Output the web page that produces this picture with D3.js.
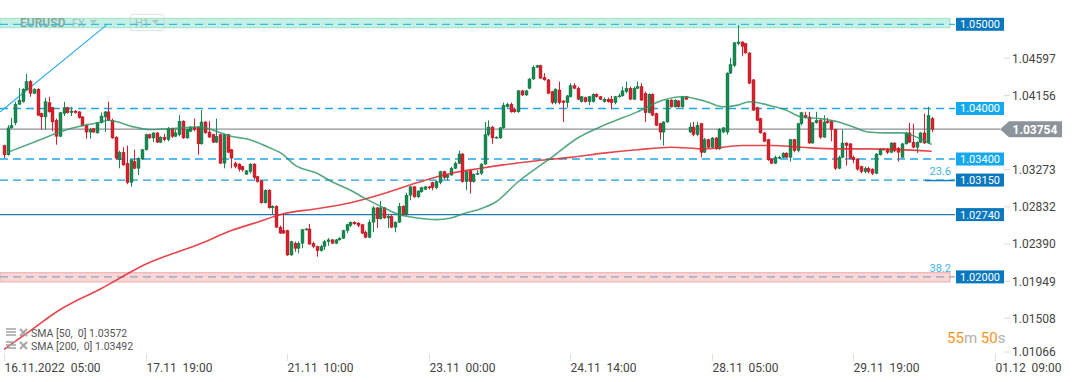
<!DOCTYPE html>
<html>
<head>
<meta charset="utf-8">
<script src="https://cdn.jsdelivr.net/npm/d3@7"></script>
<style>
  body { margin: 0; background: #fff; }
  svg { display: block; font-family: Roboto, "Noto Sans", sans-serif; }
</style>
</head>
<body>
<svg id="chart" width="1072" height="382"></svg>
<script>
// EURUSD H1, 16.11.2022 05:00 onward, one entry per bar
const opens = [
  1.0356,1.0345,1.0377,1.0383,1.0405,1.0408,1.0422,1.0432,1.0418,1.0423,
  1.0394,1.0390,1.0407,1.0401,1.0386,1.0367,1.0394,1.0401,1.0395,1.0397,
  1.0396,1.0390,1.0380,1.0372,1.0376,1.0371,1.0383,1.0390,1.0396,1.0386,
  1.0366,1.0339,1.0348,1.0335,1.0312,1.0337,1.0329,1.0340,1.0351,1.0369,
  1.0365,1.0371,1.0360,1.0366,1.0363,1.0376,1.0367,1.0369,1.0385,1.0365,
  1.0373,1.0378,1.0378,1.0358,1.0384,1.0372,1.0369,1.0360,1.0369,1.0335,
  1.0369,1.0351,1.0335,1.0334,1.0331,1.0322,1.0325,1.0334,1.0319,1.0314,
  1.0288,1.0303,1.0282,1.0284,1.0259,1.0255,1.0255,1.0226,1.0240,1.0234,
  1.0240,1.0256,1.0257,1.0240,1.0236,1.0231,1.0236,1.0242,1.0244,1.0240,
  1.0244,1.0246,1.0255,1.0261,1.0265,1.0264,1.0262,1.0253,1.0247,1.0265,
  1.0282,1.0269,1.0282,1.0270,1.0272,1.0259,1.0265,1.0284,1.0274,1.0297,
  1.0307,1.0295,1.0301,1.0304,1.0307,1.0312,1.0306,1.0312,1.0325,1.0318,
  1.0321,1.0329,1.0335,1.0346,1.0313,1.0326,1.0313,1.0322,1.0323,1.0334,
  1.0369,1.0378,1.0365,1.0365,1.0377,1.0402,1.0405,1.0399,1.0396,1.0421,
  1.0416,1.0424,1.0435,1.0449,1.0451,1.0437,1.0434,1.0420,1.0407,1.0422,
  1.0409,1.0407,1.0414,1.0427,1.0424,1.0408,1.0413,1.0408,1.0408,1.0417,
  1.0414,1.0408,1.0411,1.0411,1.0407,1.0414,1.0415,1.0420,1.0424,1.0411,
  1.0424,1.0426,1.0418,1.0395,1.0417,1.0394,1.0382,1.0372,1.0384,1.0410,
  1.0402,1.0409,1.0402,1.0414,1.0372,1.0378,1.0369,1.0382,1.0348,1.0363,
  1.0354,1.0365,1.0352,1.0372,1.0372,1.0442,1.0451,1.0477,1.0479,1.0477,
  1.0466,1.0434,1.0401,1.0388,1.0371,1.0363,1.0340,1.0335,1.0341,1.0342,
  1.0347,1.0342,1.0363,1.0350,1.0382,1.0392,1.0390,1.0359,1.0383,1.0386,
  1.0366,1.0385,1.0385,1.0375,1.0329,1.0342,1.0359,1.0358,1.0342,1.0340,
  1.0331,1.0325,1.0329,1.0328,1.0323,1.0345,1.0351,1.0352,1.0348,1.0359,
  1.0353,1.0342,1.0358,1.0371,1.0360,1.0354,1.0360,1.0371,1.0359,1.0388
];
const highs = [
  1.0357,1.0380,1.0389,1.0408,1.0424,1.0424,1.0441,1.0434,1.0424,1.0424,
  1.0395,1.0413,1.0414,1.0402,1.0388,1.0396,1.0408,1.0402,1.0402,1.0398,
  1.0397,1.0391,1.0382,1.0377,1.0377,1.0384,1.0395,1.0397,1.0408,1.0388,
  1.0367,1.0350,1.0354,1.0356,1.0340,1.0351,1.0342,1.0352,1.0370,1.0370,
  1.0372,1.0372,1.0367,1.0370,1.0378,1.0377,1.0375,1.0392,1.0386,1.0376,
  1.0379,1.0388,1.0379,1.0398,1.0385,1.0385,1.0370,1.0388,1.0370,1.0370,
  1.0370,1.0352,1.0337,1.0335,1.0332,1.0327,1.0335,1.0335,1.0320,1.0315,
  1.0304,1.0304,1.0285,1.0285,1.0261,1.0275,1.0256,1.0243,1.0242,1.0242,
  1.0257,1.0258,1.0263,1.0242,1.0237,1.0238,1.0244,1.0246,1.0245,1.0245,
  1.0247,1.0256,1.0263,1.0266,1.0266,1.0265,1.0263,1.0255,1.0268,1.0284,
  1.0283,1.0290,1.0283,1.0275,1.0274,1.0266,1.0288,1.0285,1.0300,1.0308,
  1.0308,1.0303,1.0307,1.0308,1.0308,1.0313,1.0314,1.0326,1.0326,1.0322,
  1.0331,1.0337,1.0350,1.0347,1.0326,1.0327,1.0323,1.0327,1.0335,1.0384,
  1.0386,1.0379,1.0367,1.0378,1.0407,1.0407,1.0407,1.0401,1.0422,1.0422,
  1.0422,1.0436,1.0451,1.0452,1.0452,1.0442,1.0435,1.0421,1.0424,1.0432,
  1.0410,1.0416,1.0430,1.0430,1.0426,1.0415,1.0414,1.0415,1.0418,1.0418,
  1.0415,1.0413,1.0413,1.0415,1.0415,1.0418,1.0426,1.0432,1.0426,1.0426,
  1.0432,1.0430,1.0420,1.0418,1.0418,1.0395,1.0383,1.0385,1.0411,1.0411,
  1.0411,1.0410,1.0415,1.0415,1.0383,1.0384,1.0384,1.0383,1.0365,1.0364,
  1.0366,1.0366,1.0377,1.0378,1.0443,1.0460,1.0479,1.0499,1.0480,1.0478,
  1.0467,1.0435,1.0402,1.0389,1.0372,1.0364,1.0341,1.0344,1.0344,1.0348,
  1.0348,1.0364,1.0364,1.0383,1.0396,1.0396,1.0396,1.0384,1.0396,1.0388,
  1.0392,1.0389,1.0386,1.0376,1.0344,1.0375,1.0360,1.0359,1.0344,1.0341,
  1.0332,1.0331,1.0331,1.0329,1.0347,1.0353,1.0353,1.0353,1.0360,1.0360,
  1.0354,1.0359,1.0372,1.0383,1.0382,1.0361,1.0372,1.0394,1.0402,1.0390
];
const lows = [
  1.0341,1.0344,1.0376,1.0380,1.0404,1.0407,1.0421,1.0414,1.0417,1.0391,
  1.0375,1.0375,1.0395,1.0373,1.0357,1.0366,1.0391,1.0394,1.0391,1.0394,
  1.0388,1.0379,1.0364,1.0364,1.0371,1.0370,1.0382,1.0372,1.0385,1.0364,
  1.0339,1.0329,1.0332,1.0310,1.0307,1.0328,1.0321,1.0339,1.0350,1.0364,
  1.0360,1.0359,1.0359,1.0361,1.0361,1.0365,1.0366,1.0367,1.0364,1.0364,
  1.0372,1.0373,1.0345,1.0357,1.0370,1.0365,1.0359,1.0359,1.0334,1.0329,
  1.0347,1.0329,1.0329,1.0325,1.0325,1.0321,1.0323,1.0316,1.0312,1.0287,
  1.0287,1.0281,1.0274,1.0258,1.0251,1.0251,1.0225,1.0225,1.0230,1.0228,
  1.0234,1.0255,1.0238,1.0234,1.0224,1.0230,1.0232,1.0237,1.0239,1.0239,
  1.0243,1.0245,1.0252,1.0259,1.0262,1.0259,1.0251,1.0246,1.0246,1.0253,
  1.0258,1.0268,1.0269,1.0258,1.0258,1.0253,1.0264,1.0272,1.0272,1.0291,
  1.0294,1.0294,1.0300,1.0303,1.0304,1.0303,1.0304,1.0310,1.0316,1.0315,
  1.0320,1.0328,1.0334,1.0312,1.0303,1.0299,1.0312,1.0321,1.0321,1.0333,
  1.0367,1.0358,1.0364,1.0364,1.0376,1.0401,1.0395,1.0395,1.0395,1.0415,
  1.0415,1.0423,1.0434,1.0448,1.0435,1.0433,1.0417,1.0405,1.0405,1.0405,
  1.0384,1.0401,1.0413,1.0423,1.0410,1.0407,1.0407,1.0404,1.0407,1.0413,
  1.0410,1.0407,1.0407,1.0399,1.0405,1.0413,1.0414,1.0418,1.0410,1.0410,
  1.0423,1.0409,1.0384,1.0394,1.0391,1.0379,1.0363,1.0356,1.0383,1.0401,
  1.0401,1.0401,1.0401,1.0410,1.0371,1.0367,1.0367,1.0342,1.0347,1.0353,
  1.0353,1.0351,1.0351,1.0371,1.0369,1.0441,1.0449,1.0475,1.0462,1.0465,
  1.0429,1.0397,1.0385,1.0370,1.0360,1.0338,1.0334,1.0334,1.0340,1.0341,
  1.0341,1.0337,1.0348,1.0348,1.0380,1.0388,1.0358,1.0358,1.0382,1.0364,
  1.0365,1.0382,1.0361,1.0327,1.0328,1.0341,1.0332,1.0340,1.0335,1.0326,
  1.0323,1.0323,1.0323,1.0321,1.0322,1.0344,1.0350,1.0346,1.0347,1.0348,
  1.0337,1.0341,1.0357,1.0359,1.0353,1.0347,1.0359,1.0358,1.0358,1.0372
];
const closes = [
  1.0345,1.0377,1.0380,1.0405,1.0410,1.0423,1.0432,1.0418,1.0423,1.0392,
  1.0390,1.0408,1.0396,1.0384,1.0367,1.0395,1.0401,1.0395,1.0397,1.0395,
  1.0389,1.0380,1.0372,1.0375,1.0372,1.0383,1.0391,1.0396,1.0386,1.0365,
  1.0341,1.0348,1.0333,1.0312,1.0339,1.0329,1.0341,1.0351,1.0369,1.0365,
  1.0371,1.0360,1.0366,1.0363,1.0376,1.0367,1.0371,1.0385,1.0365,1.0375,
  1.0378,1.0375,1.0358,1.0384,1.0371,1.0366,1.0360,1.0367,1.0335,1.0369,
  1.0348,1.0341,1.0331,1.0328,1.0327,1.0326,1.0334,1.0318,1.0313,1.0288,
  1.0303,1.0282,1.0284,1.0259,1.0252,1.0252,1.0226,1.0242,1.0234,1.0240,
  1.0256,1.0257,1.0239,1.0236,1.0231,1.0236,1.0242,1.0244,1.0240,1.0244,
  1.0246,1.0255,1.0262,1.0265,1.0263,1.0261,1.0252,1.0247,1.0265,1.0282,
  1.0269,1.0282,1.0270,1.0272,1.0259,1.0265,1.0284,1.0274,1.0297,1.0307,
  1.0295,1.0302,1.0306,1.0307,1.0306,1.0306,1.0313,1.0325,1.0318,1.0321,
  1.0329,1.0335,1.0346,1.0313,1.0325,1.0313,1.0322,1.0323,1.0334,1.0369,
  1.0378,1.0365,1.0366,1.0377,1.0404,1.0405,1.0396,1.0396,1.0421,1.0416,
  1.0421,1.0435,1.0449,1.0451,1.0436,1.0434,1.0418,1.0407,1.0423,1.0407,
  1.0407,1.0415,1.0427,1.0424,1.0411,1.0414,1.0408,1.0414,1.0417,1.0414,
  1.0411,1.0411,1.0408,1.0407,1.0414,1.0415,1.0421,1.0424,1.0411,1.0424,
  1.0426,1.0410,1.0395,1.0417,1.0392,1.0380,1.0372,1.0384,1.0410,1.0402,
  1.0410,1.0402,1.0414,1.0411,1.0378,1.0369,1.0380,1.0348,1.0363,1.0354,
  1.0365,1.0352,1.0375,1.0377,1.0442,1.0452,1.0478,1.0479,1.0474,1.0466,
  1.0430,1.0398,1.0386,1.0371,1.0361,1.0339,1.0335,1.0342,1.0342,1.0347,
  1.0342,1.0363,1.0350,1.0382,1.0395,1.0389,1.0359,1.0383,1.0386,1.0366,
  1.0384,1.0383,1.0375,1.0329,1.0342,1.0359,1.0356,1.0341,1.0339,1.0328,
  1.0325,1.0329,1.0325,1.0323,1.0346,1.0352,1.0352,1.0348,1.0359,1.0350,
  1.0348,1.0358,1.0371,1.0360,1.0354,1.0360,1.0371,1.0359,1.0392,1.03754
];

// moving averages, sampled at bar indexes
const sma50Idx = [1,8,17,26,28,35,39,44,53,57,61,66,71,75,78,84,88,93,97,102,106,111,116,120,124,128,132,138,147,154,161,170,177,182,188,193,197,200,206,210,214,219,224,228,232,237,241,245,249];
const sma50Val = [1.0348,1.0360,1.0375,1.0384,1.0386,1.0378,1.0375,1.0376,1.0378,1.0373,1.0367,1.0363,1.0354,1.0345,1.0333,1.0323,1.0313,1.0303,1.0293,1.0282,1.0274,1.0270,1.0268,1.0270,1.0276,1.0281,1.0289,1.0313,1.0342,1.0365,1.0380,1.0396,1.0410,1.0414,1.0409,1.0402,1.0404,1.0408,1.0403,1.0398,1.0390,1.0388,1.0384,1.0378,1.0372,1.0371,1.0371,1.0366,1.03572];
const sma200Idx = [0,7,15,26,38,53,61,68,75,84,93,102,111,120,128,134,143,152,161,170,179,188,198,206,214,224,232,249];
const sma200Val = [1.0114,1.0136,1.0161,1.0186,1.0215,1.0240,1.0255,1.0265,1.0275,1.0281,1.0288,1.0299,1.0312,1.0323,1.0329,1.0333,1.0338,1.0342,1.0347,1.0351,1.0354,1.0352,1.0356,1.0356,1.0354,1.0352,1.0352,1.03492];

const xTickIdx = [0, 38, 76, 114, 152, 190, 228, 266];
const xTickLabels = ['16.11.2022  05:00', '17.11  19:00', '21.11  10:00', '23.11  00:00', '24.11  14:00', '28.11  05:00', '29.11  19:00', '01.12  09:00'];
const yTickVals = [1.04597, 1.04156, 1.03273, 1.02832, 1.02390, 1.01949, 1.01508, 1.01066];

const resistZone = [1.0507, 1.0496];
const supportZone = [1.0205, 1.0194];
const dashedLight = [1.04, 1.034];
const fibLevels = [1.0315, 1.02];
const fibNames = ['23.6', '38.2'];
const solidLevel = 1.0274;
const trendIdx = [-1, 27.5];
const trendVal = [1.0396, 1.0499];
const lastPrice = 1.03754;
const smaNames = ['SMA [50,  0] 1.03572', 'SMA [200,  0] 1.03492'];

const svg = d3.select('#chart');
const x = d3.scaleLinear().domain([0, 266]).range([4, 995]);
const y = d3.scaleLinear().domain([1.05, 1.02]).range([24.3, 276.9]);
const fmt = d3.format('.5f');
const lineEnd = 955;

// zones
[[resistZone, 'rgba(150,228,205,0.55)', '#a0e0cc'], [supportZone, 'rgba(246,165,165,0.45)', '#f0abab']].forEach(function(z) {
  svg.append('rect').attr('x', 0).attr('y', y(z[0][0])).attr('width', lineEnd - 5)
    .attr('height', y(z[0][1]) - y(z[0][0])).attr('fill', z[1]).attr('stroke', z[2]).attr('stroke-width', 1);
});

// top-left instrument captions
const cap = svg.append('g').attr('opacity', 0.6);
cap.append('text').attr('x', 20).attr('y', 27).attr('font-size', 12).attr('font-weight', 'bold').attr('fill', '#5f7f76').text('EURUSD');
cap.append('text').attr('x', 72).attr('y', 27).attr('font-size', 11).attr('fill', '#8aa49c').text('FX');
cap.append('path').attr('d', 'M90,20 L97,20 L93.5,24 Z').attr('fill', '#9ab0a9');
cap.append('rect').attr('x', 130).attr('y', 14.5).attr('width', 34).attr('height', 16).attr('rx', 3).attr('fill', 'none').attr('stroke', '#c9d3d0');
cap.append('text').attr('x', 135).attr('y', 27).attr('font-size', 11).attr('fill', '#8aa49c').text('H1');
cap.append('path').attr('d', 'M152,20 L159,20 L155.5,24 Z').attr('fill', '#9ab0a9');

// horizontal levels
svg.append('line').attr('x1', 0).attr('x2', lineEnd).attr('y1', y(1.05)).attr('y2', y(1.05))
  .attr('stroke', '#35bde6').attr('stroke-width', 1.3).attr('stroke-dasharray', '8,5');
dashedLight.forEach(function(v) {
  svg.append('line').attr('x1', 0).attr('x2', lineEnd).attr('y1', y(v)).attr('y2', y(v))
    .attr('stroke', '#1da8ee').attr('stroke-width', 1.3).attr('stroke-dasharray', '8,5');
});
svg.append('line').attr('x1', 0).attr('x2', lineEnd).attr('y1', y(fibLevels[0])).attr('y2', y(fibLevels[0]))
  .attr('stroke', '#159ddf').attr('stroke-width', 1.3).attr('stroke-dasharray', '8,5');
svg.append('line').attr('x1', 925).attr('x2', lineEnd).attr('y1', y(fibLevels[0]) + 0.5).attr('y2', y(fibLevels[0]) + 0.5)
  .attr('stroke', '#1a7fc0').attr('stroke-width', 1.5);
svg.append('line').attr('x1', 0).attr('x2', lineEnd).attr('y1', y(fibLevels[1])).attr('y2', y(fibLevels[1]))
  .attr('stroke', '#8aa6bf').attr('stroke-width', 1.2).attr('stroke-dasharray', '8,5');
svg.append('line').attr('x1', 0).attr('x2', lineEnd).attr('y1', y(solidLevel)).attr('y2', y(solidLevel))
  .attr('stroke', '#1f7ab8').attr('stroke-width', 1.3);
svg.append('line').attr('x1', 0).attr('x2', 1000).attr('y1', y(lastPrice)).attr('y2', y(lastPrice))
  .attr('stroke', '#8b9298').attr('stroke-width', 1.3);

fibLevels.forEach(function(v, i) {
  svg.append('text').attr('x', 951).attr('y', y(v) - 5).attr('text-anchor', 'end')
    .attr('font-size', 11).attr('fill', '#3fb5ee').text(fibNames[i]);
});

// trend line
svg.append('line').attr('x1', x(trendIdx[0])).attr('y1', y(trendVal[0])).attr('x2', x(trendIdx[1])).attr('y2', y(trendVal[1]))
  .attr('stroke', '#2aaaea').attr('stroke-width', 1.2);

// candles
const bars = closes.map(function(c, i) { return {i: i, o: opens[i], h: highs[i], l: lows[i], c: c}; });
const cg = svg.append('g');
bars.forEach(function(d) {
  const up = d.c >= d.o;
  const col = up ? '#178a52' : '#d9202c';
  const cx = Math.round(x(d.i)) + 0.5;
  cg.append('line').attr('x1', cx).attr('x2', cx).attr('y1', y(d.h)).attr('y2', y(d.l)).attr('stroke', col).attr('stroke-width', 1);
  const top = y(Math.max(d.o, d.c));
  const hgt = Math.max(1, Math.abs(y(d.o) - y(d.c)));
  cg.append('rect').attr('x', cx - 1.5).attr('y', top).attr('width', 3).attr('height', hgt)
    .attr('fill', col).attr('stroke', up ? '#0f6b3d' : '#a8141f').attr('stroke-width', 0.4);
});

// moving averages
const smaLine = d3.line().curve(d3.curveMonotoneX).x(function(d) { return x(d[0]); }).y(function(d) { return y(d[1]); });
svg.append('path').attr('d', smaLine(d3.zip(sma200Idx, sma200Val))).attr('fill', 'none')
  .attr('stroke', '#e0262b').attr('stroke-width', 1.6).attr('stroke-opacity', 0.85);
svg.append('path').attr('d', smaLine(d3.zip(sma50Idx, sma50Val))).attr('fill', 'none')
  .attr('stroke', '#2a9463').attr('stroke-width', 1.6).attr('stroke-opacity', 0.8);

// price tags on the right
function tag(v, fill) {
  svg.append('rect').attr('x', 956).attr('y', y(v) - 6.5).attr('width', 48).attr('height', 13).attr('fill', fill);
  svg.append('text').attr('x', 980).attr('y', y(v)).attr('dy', '0.36em').attr('text-anchor', 'middle')
    .attr('font-size', 11).attr('fill', '#fff').text(fmt(v));
}
tag(1.05, '#0a78be');
tag(dashedLight[0], '#14a9ef');
tag(dashedLight[1], '#14a9ef');
tag(fibLevels[0], '#0a78be');
tag(solidLevel, '#0a78be');
tag(fibLevels[1], '#0a78be');

const yl = y(lastPrice);
svg.append('path').attr('d', 'M1000,' + yl + ' L1009,' + (yl - 8) + ' L1062,' + (yl - 8) + ' L1062,' + (yl + 8) + ' L1009,' + (yl + 8) + ' Z')
  .attr('fill', '#8c949b');
svg.append('text').attr('x', 1035).attr('y', yl).attr('dy', '0.36em').attr('text-anchor', 'middle')
  .attr('font-size', 12).attr('font-weight', 'bold').attr('fill', '#fff').text(fmt(lastPrice));

// right axis
const ya = svg.append('g');
yTickVals.forEach(function(v) {
  const ty = Math.min(y(v), 352);
  ya.append('line').attr('x1', 1004).attr('x2', 1010).attr('y1', ty).attr('y2', ty).attr('stroke', '#d8d8d8');
  ya.append('text').attr('x', 1012).attr('y', ty).attr('dy', '0.36em').attr('font-size', 12).attr('fill', '#444').text(fmt(v));
});

// bottom axis
const xa = svg.append('g');
xTickIdx.forEach(function(t, i) {
  const tx = Math.round(x(t)) + 0.5;
  xa.append('line').attr('x1', tx).attr('x2', tx).attr('y1', 354).attr('y2', 361).attr('stroke', '#e0e0e0');
  xa.append('text').attr('x', tx).attr('y', 372).attr('font-size', 12).attr('fill', '#444')
    .style('white-space', 'pre').text(xTickLabels[i]);
});

// indicator legend
smaNames.forEach(function(s, i) {
  const ly = 333 + i * 13;
  const g = svg.append('g');
  [0, 3, 6].forEach(function(k) {
    g.append('line').attr('x1', 6).attr('x2', 16).attr('y1', ly - 4 + k).attr('y2', ly - 4 + k).attr('stroke', '#a5a5a5').attr('stroke-width', 1.6);
  });
  g.append('line').attr('x1', 20).attr('x2', 27).attr('y1', ly - 4).attr('y2', ly + 3).attr('stroke', '#a5a5a5').attr('stroke-width', 2);
  g.append('line').attr('x1', 27).attr('x2', 20).attr('y1', ly - 4).attr('y2', ly + 3).attr('stroke', '#a5a5a5').attr('stroke-width', 2);
  g.append('text').attr('x', 31).attr('y', ly + 4).attr('font-size', 10.5).attr('fill', '#555')
    .style('white-space', 'pre').text(s);
});

// bar countdown
const cd = svg.append('text').attr('x', 947).attr('y', 343).attr('font-size', 15);
cd.append('tspan').attr('fill', '#f7941d').text('55');
cd.append('tspan').attr('fill', '#b0b0b0').text('m ');
cd.append('tspan').attr('fill', '#f7941d').text('50');
cd.append('tspan').attr('fill', '#b0b0b0').text('s');
</script>
</body>
</html>
